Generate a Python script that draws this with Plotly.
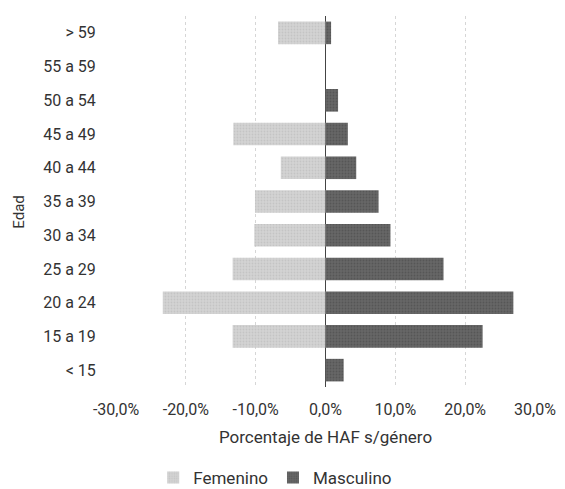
import plotly.graph_objects as go

edades = ["> 59", "55 a 59", "50 a 54", "45 a 49", "40 a 44", "35 a 39",
          "30 a 34", "25 a 29", "20 a 24", "15 a 19", "< 15"]
femenino = [6.8, 0.0, 0.0, 13.2, 6.4, 10.1, 10.2, 13.3, 23.3, 13.3, 0.0]
masculino = [0.8, 0.0, 1.8, 3.2, 4.4, 7.6, 9.3, 16.9, 26.9, 22.5, 2.6]
tick_vals = [-30, -20, -10, 0, 10, 20, 30]
tick_text = ["-30,0%", "-20,0%", "-10,0%", "0,0%", "10,0%", "20,0%", "30,0%"]

fig = go.Figure()
fig.add_trace(go.Bar(
    y=edades, x=[-v for v in femenino], orientation="h", name="Femenino",
    marker=dict(color="#d3d3d3", line=dict(width=0),
                pattern=dict(shape=".", fgcolor="#b5b5b5", size=3, solidity=0.3)),
))
fig.add_trace(go.Bar(
    y=edades, x=masculino, orientation="h", name="Masculino",
    marker=dict(color="#666666", line=dict(width=0),
                pattern=dict(shape=".", fgcolor="#454545", size=3, solidity=0.3)),
))

fig.update_layout(
    width=565, height=489,
    barmode="relative", bargap=0.33,
    paper_bgcolor="white", plot_bgcolor="white",
    font=dict(family="Roboto, sans-serif", size=16, color="#333333"),
    margin=dict(l=116, r=30, t=16, b=102, autoexpand=False),
    xaxis=dict(
        range=[-30, 30], tickvals=tick_vals, ticktext=tick_text,
        showgrid=True, gridcolor="#d6d6d6", gridwidth=1, griddash="dot",
        zeroline=True, zerolinecolor="#444444", zerolinewidth=1,
        title=dict(text="Porcentaje de HAF s/género", font=dict(size=17), standoff=12),
        ticks="outside", ticklen=8, tickcolor="rgba(0,0,0,0)", showline=False,
        automargin=False, ticklabeloverflow="allow",
    ),
    yaxis=dict(
        categoryorder="array", categoryarray=edades, range=[10.5, -0.5],
        showgrid=False, ticks="outside", ticklen=16, tickcolor="rgba(0,0,0,0)",
        showline=False, automargin=False,
    ),
    legend=dict(orientation="h", x=0.38, xanchor="center", y=-0.245, yanchor="middle",
                font=dict(size=17)),
    annotations=[dict(text="Edad", xref="paper", yref="paper", x=-0.232, y=0.472,
                      textangle=-90, showarrow=False, font=dict(size=15),
                      xanchor="center", yanchor="middle")],
)

fig.write_html("out.html", config={"displayModeBar": False},
               post_script="document.body.style.margin='0px';document.body.style.overflow='hidden';")
